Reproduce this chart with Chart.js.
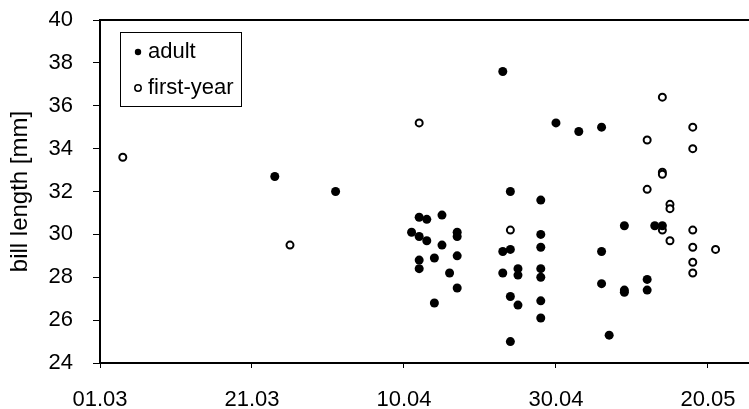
<!DOCTYPE html>
<html>
<head>
<meta charset="utf-8">
<script src="https://cdn.jsdelivr.net/npm/chart.js"></script>
<style>
  body { margin: 0; background: #fff; }
  #wrap { width: 749px; height: 409px; }
</style>
</head>
<body>
<div id="wrap"><canvas id="myChart" width="749" height="409"></canvas></div>
<script>
// days counted from 01.03
const tickDays = [0, 20, 40, 60, 80];
const tickLabels = ['01.03', '21.03', '10.04', '30.04', '20.05'];

const adultDay = [23, 31, 41, 42, 43, 45, 42, 43, 45, 47, 47, 42, 42, 44, 47, 46, 47, 44,
  53, 54, 53, 54, 53, 55, 55, 54, 55, 54, 58, 58, 58, 58, 58, 58, 58,
  60, 63, 66, 66, 66, 67, 69, 69, 69, 72, 72, 73, 74];
const adultLen = [32.7, 32.0, 30.1, 30.8, 30.7, 30.9, 29.9, 29.7, 29.5, 30.1, 29.9, 28.8, 28.4, 28.9, 29.0, 28.2, 27.5, 26.8,
  37.6, 32.0, 29.2, 29.3, 28.2, 28.4, 28.1, 27.1, 26.7, 25.0, 31.6, 30.0, 29.4, 28.4, 28.0, 26.9, 26.1,
  35.2, 34.8, 35.0, 29.2, 27.7, 25.3, 30.4, 27.4, 27.3, 27.9, 27.4, 30.4, 30.4];

const firstDay = [3, 25, 42, 54, 74, 72, 72, 74, 74, 75, 75, 75, 78, 78, 78, 78, 78, 78, 81, 74];
const firstLen = [33.6, 29.5, 35.2, 30.2, 36.4, 34.4, 32.1, 32.9, 32.8, 31.4, 31.2, 29.7,
  35.0, 34.0, 30.2, 29.4, 28.7, 28.2, 29.3, 30.2];

const toPoints = (xs, ys) => xs.map((x, i) => ({ x: x, y: ys[i] }));

const FONT = 'Liberation Sans, Arial, sans-serif';

// top frame line + boxed legend inside the plot
const framePlugin = {
  id: 'frame',
  afterDraw(chart) {
    const ctx = chart.ctx;
    const a = chart.chartArea;
    ctx.save();
    ctx.strokeStyle = '#000';
    ctx.lineWidth = 2;
    ctx.beginPath();
    ctx.moveTo(a.left, a.top);
    ctx.lineTo(a.right, a.top);
    ctx.stroke();

    // legend
    ctx.lineWidth = 1;
    ctx.strokeRect(120.5, 32.5, 121, 74);
    ctx.font = '22px ' + FONT;
    ctx.fillStyle = '#000';
    ctx.textBaseline = 'alphabetic';
    const rows = [52, 88];
    chart.data.datasets.forEach((ds, i) => {
      const y = rows[i];
      ctx.beginPath();
      ctx.arc(138, y, 3.2, 0, Math.PI * 2);
      if (i === 0) {
        ctx.fillStyle = '#000';
        ctx.fill();
      } else {
        ctx.fillStyle = '#fff';
        ctx.fill();
        ctx.lineWidth = 1.5;
        ctx.stroke();
      }
      ctx.fillStyle = '#000';
      ctx.fillText(ds.label, 148, y + 6);
    });
    ctx.restore();
  }
};

const config = {
  type: 'scatter',
  data: {
    datasets: [{
      label: 'adult',
      data: toPoints(adultDay, adultLen),
      backgroundColor: '#000',
      borderColor: '#000',
      pointRadius: 4.5,
      borderWidth: 0
    }, {
      label: 'first-year',
      data: toPoints(firstDay, firstLen),
      backgroundColor: '#fff',
      borderColor: '#000',
      pointRadius: 3.5,
      borderWidth: 2
    }]
  },
  options: {
    responsive: false,
    animation: false,
    layout: { autoPadding: false, padding: { top: 20, right: 0, left: 0, bottom: 0 } },
    plugins: {
      legend: { display: false },
      tooltip: { enabled: false }
    },
    scales: {
      x: {
        type: 'linear',
        min: 0,
        max: 85.4,
        afterBuildTicks: (scale) => {
          scale.ticks = tickDays.map(v => ({ value: v }));
        },
        afterFit: (scale) => {
          scale.height = 46;
          scale.paddingLeft = 0;
          scale.paddingRight = 0;
        },
        border: { display: true, color: '#000', width: 2 },
        grid: { drawOnChartArea: false, drawTicks: true, tickLength: 5, color: '#000', lineWidth: 1 },
        ticks: {
          color: '#000',
          font: { family: FONT, size: 22 },
          padding: 19,
          maxRotation: 0,
          callback: (v) => tickLabels[tickDays.indexOf(v)]
        }
      },
      y: {
        min: 24,
        max: 40,
        afterFit: (scale) => {
          scale.width = 100;
          scale.paddingTop = 0;
          scale.paddingBottom = 0;
        },
        border: { display: true, color: '#000', width: 2 },
        grid: { drawOnChartArea: false, drawTicks: true, tickLength: 7, color: '#000', lineWidth: 1 },
        ticks: {
          stepSize: 2,
          color: '#000',
          font: { family: FONT, size: 22 },
          padding: 20
        },
        title: {
          display: true,
          text: 'bill length [mm]',
          color: '#000',
          font: { family: FONT, size: 24 },
          padding: { top: 6, bottom: 0 }
        }
      }
    }
  },
  plugins: [framePlugin]
};

const myChart = new Chart(document.getElementById('myChart'), config);
</script>
</body>
</html>
